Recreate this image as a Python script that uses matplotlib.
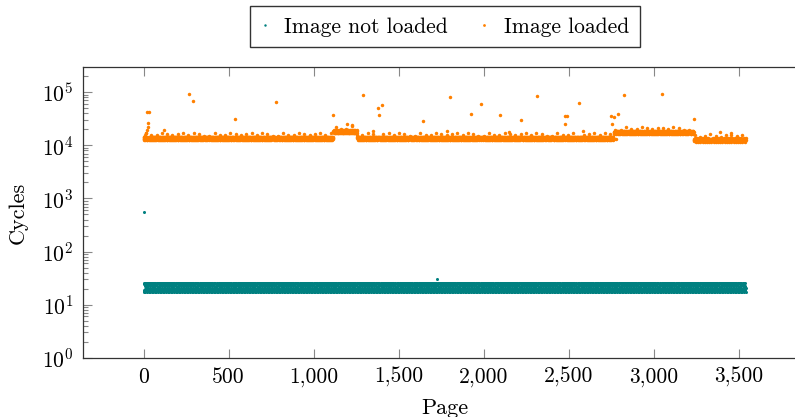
import numpy as np
import matplotlib
matplotlib.use("Agg")
import matplotlib.pyplot as plt
from matplotlib.ticker import FuncFormatter, LogLocator, FixedLocator

plt.rcParams['font.family'] = 'cmr10'
plt.rcParams['mathtext.fontset'] = 'cm'
plt.rcParams['axes.formatter.use_mathtext'] = True

# pages measured
n_pages = 3541
pages = np.arange(n_pages)

# image not loaded: repeating spread (cycles), plus outliers
teal_cycle = [18, 19, 17, 25, 24, 18, 20, 18, 22, 26, 19, 17, 21, 25, 18, 20, 24, 18, 19, 23,
              17, 26, 18, 22, 19, 25, 18, 21]
teal_out_pages = [0, 1726]
teal_out_vals = [556, 30]

# image loaded: plateau levels per page range
orange_seg_start = [0, 1115, 1255, 2765, 3235]
orange_seg_level = [13800, 18300, 13800, 17800, 12800]
orange_spread = [1.0, 0.95, 1.04, 0.97, 1.06, 0.93, 1.01, 0.96, 1.05, 0.99, 0.92, 1.02, 0.97]
orange_bump = 1.19  # the row of dots sitting just above the band
orange_out_pages = [8, 14, 20, 24, 28, 22, 34, 119, 269, 293, 538, 778, 1115, 1196,
                    1227, 1291, 1350, 1379, 1383, 1399, 1644, 1785, 1803, 1926, 1981,
                    2093, 2149, 2220, 2314, 2475, 2477, 2490, 2557, 2584, 2749, 2753,
                    2764, 2780, 2788, 2827, 3048, 3234, 3387, 3452]
orange_out_vals = [15700, 17300, 19400, 22400, 26000, 42000, 43000, 19400, 92900, 69500,
                   31000, 65600, 36900, 25000, 24000, 87700, 18400, 50400, 36500, 58400,
                   28800, 18400, 81600, 38500, 59400, 37400, 17600, 29700, 84100, 35000,
                   24800, 35000, 62000, 18400, 35000, 24900, 33500, 13000, 39000, 87700,
                   91700, 31400, 18000, 17200]

# build the series
teal = np.array([teal_cycle[p % len(teal_cycle)] for p in pages], dtype=float)
teal[teal_out_pages] = teal_out_vals

seg_idx = np.searchsorted(orange_seg_start, pages, side='right') - 1
orange = np.array([orange_seg_level[s] for s in seg_idx], dtype=float)
orange *= np.array([orange_spread[p % len(orange_spread)] for p in pages])
orange[pages % 31 == 15] *= orange_bump
orange[orange_out_pages] = orange_out_vals

teal_c = '#008080'
orange_c = '#ff8000'

fig = plt.figure(figsize=(7.95, 4.17), dpi=100)
ax = fig.add_axes([0.1048, 0.1422, 0.909, 0.6964])

ax.plot(pages, teal, ls='none', marker='o', ms=2.2, mew=0, color=teal_c, label='Image not loaded')
ax.plot(pages, orange, ls='none', marker='o', ms=2.5, mew=0, color=orange_c, label='Image loaded')

ax.set_yscale('log')
ax.set_xlim(-354, 3894)
ax.set_ylim(1, 10 ** 5.47)

ax.xaxis.set_major_locator(FixedLocator(np.arange(0, 3501, 500)))
ax.xaxis.set_major_formatter(FuncFormatter(lambda v, p: f"{int(v):,}"))
ax.yaxis.set_major_locator(FixedLocator([10.0 ** k for k in range(6)]))
ax.yaxis.set_minor_locator(LogLocator(base=10, subs=np.arange(2, 10), numticks=100))

ax.tick_params(which='both', direction='in', top=True, right=True, color='#888888', width=0.8,
               labelsize=15.5)
ax.tick_params(which='major', length=6.5, pad=7)
ax.tick_params(which='minor', length=3.5)
for s in ax.spines.values():
    s.set_linewidth(0.9)
    s.set_color('#333333')

ax.set_xlabel('Page', fontsize=16, labelpad=8)
ax.set_ylabel('Cycles', fontsize=16, labelpad=10)

leg = ax.legend(loc='lower center', bbox_to_anchor=(0.5, 1.069), ncol=2, fontsize=15.5,
                frameon=True, fancybox=False, edgecolor='black', handlelength=0.4,
                handletextpad=0.7, columnspacing=1.5, borderpad=0.5, borderaxespad=0,
                markerscale=0.8)
leg.get_frame().set_linewidth(1.0)

fig.savefig('out.png', dpi=100)
